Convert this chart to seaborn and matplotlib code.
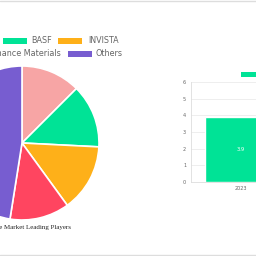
import matplotlib
matplotlib.use("Agg")
import matplotlib.pyplot as plt
import seaborn as sns
import pandas as pd
from matplotlib.patches import Rectangle
from matplotlib.lines import Line2D

# ---- data ----
players = ["Asahi Kasei", "BASF", "INVISTA", "Ascend Performance Materials", "Others"]
shares = [12.5, 13.3, 14.2, 12.5, 47.5]
pie_colors = ["#f7a5a5", "#00e396", "#feb019", "#ff4560", "#775dd0"]
pie_title = "Adiponitrile Market Leading Players"

years = ["2023"]
market_size = [3.9]
bar_color = "#00e396"
y_ticks = [0, 1, 2, 3, 4, 5, 6]

sns.set_theme(style="white")
plt.rcParams["font.family"] = ["DejaVu Sans"]

W = H = 256
fig = plt.figure(figsize=(2.56, 2.56), dpi=100)
fig.patch.set_facecolor("white")

def px_axes(left, top, width, height):
    return fig.add_axes([left / W, (H - top - height) / H, width / W, height / H])

# ---- pie ----
cx, cy, r = 22, 143, 77
ax_pie = px_axes(cx - r, cy - r, 2 * r, 2 * r)
ax_pie.pie(shares, colors=pie_colors, startangle=90, counterclock=False,
           wedgeprops=dict(edgecolor="white", linewidth=1.2))
ax_pie.set_xlim(-1, 1)
ax_pie.set_ylim(-1, 1)
ax_pie.set_aspect("equal")
ax_pie.axis("off")

fig.text(71 / W, 1 - 227.5 / H, pie_title, ha="right", va="center",
         fontsize=5.0, family="Liberation Serif", color="#222222")

# legend (pixel-placed)
legend_items = [
    # (box_left, box_top_y, text_x, text_ha)
    (-100, 40.5, -75, "left"),
    (3, 40.5, 31.5, "left"),
    (58, 40.5, 88, "left"),
    (-40, 54, 61, "right"),
    (68, 54, 96, "left"),
]
for (bx, by, tx, ha), lab, col in zip(legend_items, players, pie_colors):
    fig.patches.append(Rectangle((bx / W, 1 - (by + 3) / H), 24 / W, 6 / H,
                                 transform=fig.transFigure, facecolor=col,
                                 edgecolor="none"))
    fig.text(tx / W, 1 - by / H, lab, ha=ha, va="center", fontsize=5.8,
             color="#666666")

# ---- bar ----
ax_bar = px_axes(191, 82, 100, 100)
df = pd.DataFrame({"year": years, "size": market_size})
sns.barplot(data=df, x="year", y="size", ax=ax_bar, color=bar_color,
            width=0.72, saturation=1)
ax_bar.set_xlim(-0.5, len(years) - 0.5)
ax_bar.set_ylim(0, 6)
ax_bar.set_yticks(y_ticks)
ax_bar.set_xlabel("")
ax_bar.set_ylabel("")
ax_bar.grid(axis="y", color="#ebebeb", linewidth=0.6)
ax_bar.set_axisbelow(True)
for s in ["top", "right"]:
    ax_bar.spines[s].set_visible(False)
ax_bar.spines["left"].set_color("#dddddd")
ax_bar.spines["bottom"].set_color("#dddddd")
ax_bar.spines["left"].set_linewidth(0.6)
ax_bar.spines["bottom"].set_linewidth(0.6)
ax_bar.tick_params(axis="y", labelsize=3.5, colors="#666666", length=2,
                   width=0.5, pad=1.5)
ax_bar.tick_params(axis="x", labelsize=3.5, colors="#666666", length=0, pad=3)
for i, v in enumerate(market_size):
    ax_bar.text(i, v / 2, f"{v}", ha="center", va="center", color="white",
                fontsize=3.8)

# bar legend box
fig.patches.append(Rectangle((241 / W, 1 - 77 / H), 20 / W, 5 / H,
                             transform=fig.transFigure, facecolor=bar_color,
                             edgecolor="none"))

# page borders
fig.add_artist(Line2D([0, 1], [1 - 0.5 / H, 1 - 0.5 / H], color="#dddddd",
                      linewidth=1, transform=fig.transFigure))
fig.add_artist(Line2D([0, 1], [1 - 254.5 / H, 1 - 254.5 / H], color="#dddddd",
                      linewidth=1, transform=fig.transFigure))

fig.savefig("out.png", dpi=100, facecolor="white")
